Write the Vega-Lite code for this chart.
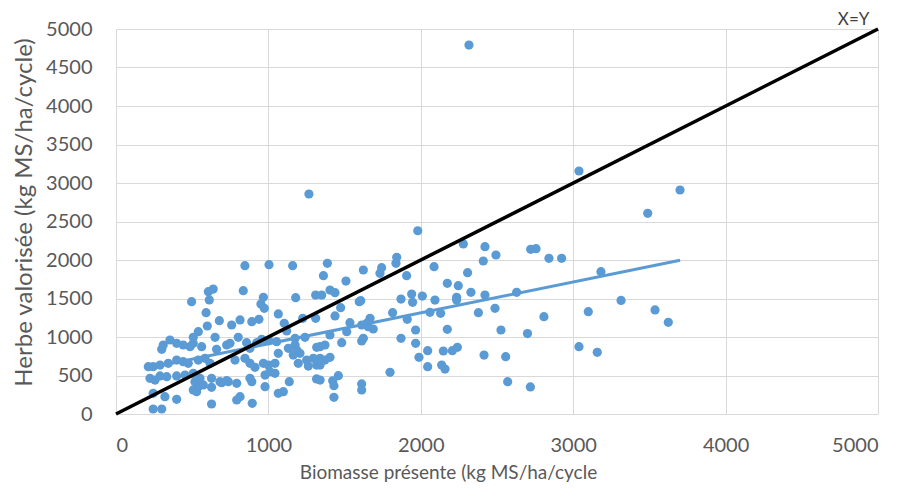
{
  "$schema": "https://vega.github.io/schema/vega-lite/v6.json",
  "autosize": {"type": "none"},
  "width": 762,
  "height": 385,
  "padding": {"left": 116, "top": 29, "right": 26, "bottom": 75},
  "config": {
    "view": {"stroke": null},
    "font": "Lato",
    "axis": {
      "grid": true, "gridColor": "#d9d9d9", "gridWidth": 1,
      "domain": false, "ticks": false, "labelOverlap": false, "format": "d",
      "labelColor": "#595959", "titleColor": "#595959",
      "labelFont": "Lato", "titleFont": "Lato",
      "labelFontSize": 20, "titleFontWeight": "normal"
    }
  },
  "datasets": {
    "pts": [
      {"x":2316,"y":4792},{"x":1266,"y":2857},{"x":1980,"y":2380},{"x":3038,"y":3156},{"x":3701,"y":2909},
      {"x":3489,"y":2606},{"x":2279,"y":2208},{"x":2421,"y":2173},{"x":2410,"y":1987},{"x":2493,"y":2065},
      {"x":2087,"y":1913},{"x":2307,"y":1835},{"x":2174,"y":1697},{"x":2246,"y":1667},{"x":2329,"y":1580},
      {"x":2421,"y":1545},{"x":2629,"y":1580},{"x":2235,"y":1515},{"x":2235,"y":1480},{"x":2010,"y":1532},
      {"x":2093,"y":1480},{"x":2060,"y":1320},{"x":2130,"y":1307},{"x":2378,"y":1316},{"x":2487,"y":1372},
      {"x":1966,"y":1091},{"x":2174,"y":1100},{"x":2526,"y":1091},{"x":2700,"y":1045},{"x":1966,"y":918},
      {"x":1988,"y":736},{"x":2045,"y":822},{"x":2045,"y":614},{"x":2148,"y":818},{"x":2207,"y":822},
      {"x":2240,"y":866},{"x":2137,"y":636},{"x":2159,"y":584},{"x":2415,"y":766},{"x":2557,"y":745},
      {"x":2570,"y":420},{"x":2721,"y":2139},{"x":2756,"y":2147},{"x":2841,"y":2022},{"x":2924,"y":2022},
      {"x":3182,"y":1848},{"x":3314,"y":1475},{"x":3099,"y":1329},{"x":3537,"y":1351},{"x":3624,"y":1191},
      {"x":2808,"y":1264},{"x":3038,"y":874},{"x":3158,"y":801},{"x":2719,"y":351},
      {"x":1387,"y":1957},{"x":1842,"y":2035},{"x":1837,"y":1957},{"x":1623,"y":1870},{"x":1743,"y":1900},
      {"x":1732,"y":1827},{"x":1361,"y":1796},{"x":1907,"y":1796},{"x":1509,"y":1727},{"x":1404,"y":1610},
      {"x":1437,"y":1575},{"x":1350,"y":1545},{"x":1596,"y":1458},{"x":1606,"y":1471},{"x":1870,"y":1493},
      {"x":1940,"y":1558},{"x":1946,"y":1450},{"x":1474,"y":1381},{"x":1437,"y":1273},{"x":1815,"y":1316},
      {"x":1535,"y":1186},{"x":1667,"y":1243},{"x":1645,"y":1178},{"x":1612,"y":1156},{"x":1688,"y":1104},
      {"x":1655,"y":1134},{"x":1911,"y":1230},{"x":1514,"y":1069},{"x":1404,"y":1026},{"x":1623,"y":983},
      {"x":1612,"y":948},{"x":1481,"y":926},{"x":1870,"y":983},{"x":1339,"y":874},{"x":1339,"y":723},
      {"x":1404,"y":736},{"x":1339,"y":636},{"x":1798,"y":541},{"x":1459,"y":497},{"x":1422,"y":432},
      {"x":1430,"y":368},{"x":1612,"y":390},{"x":1612,"y":312},{"x":1430,"y":217},{"x":1339,"y":441},
      {"x":846,"y":1926},{"x":1004,"y":1939},{"x":1159,"y":1926},{"x":835,"y":1601},{"x":967,"y":1515},
      {"x":951,"y":1429},{"x":973,"y":1372},{"x":1179,"y":1511},{"x":1310,"y":1545},{"x":1065,"y":1299},
      {"x":1104,"y":1178},{"x":1120,"y":1078},{"x":759,"y":1156},{"x":814,"y":1221},{"x":891,"y":1199},
      {"x":938,"y":1230},{"x":1225,"y":1243},{"x":1310,"y":1243},{"x":802,"y":996},{"x":748,"y":918},
      {"x":857,"y":926},{"x":956,"y":970},{"x":1004,"y":952},{"x":1054,"y":939},{"x":1175,"y":983},
      {"x":1240,"y":996},{"x":1131,"y":853},{"x":1186,"y":831},{"x":1163,"y":766},{"x":1207,"y":788},
      {"x":1317,"y":866},{"x":1371,"y":896},{"x":1251,"y":701},{"x":1295,"y":723},{"x":1317,"y":636},
      {"x":1371,"y":701},{"x":1196,"y":658},{"x":1262,"y":623},{"x":781,"y":701},{"x":846,"y":723},
      {"x":879,"y":658},{"x":912,"y":606},{"x":967,"y":658},{"x":1000,"y":636},{"x":1043,"y":658},
      {"x":1043,"y":528},{"x":978,"y":506},{"x":1010,"y":549},{"x":737,"y":420},{"x":792,"y":398},
      {"x":891,"y":420},{"x":879,"y":463},{"x":978,"y":355},{"x":1065,"y":268},{"x":1098,"y":290},
      {"x":814,"y":225},{"x":792,"y":182},{"x":894,"y":139},{"x":1316,"y":455},{"x":1065,"y":788},
      {"x":1175,"y":896},{"x":1137,"y":420},{"x":923,"y":926},{"x":879,"y":853},{"x":682,"y":420},
      {"x":606,"y":1588},{"x":638,"y":1623},{"x":612,"y":1481},{"x":496,"y":1458},{"x":591,"y":1316},
      {"x":678,"y":1212},{"x":599,"y":1143},{"x":540,"y":1069},{"x":507,"y":996},{"x":650,"y":996},
      {"x":660,"y":840},{"x":726,"y":896},{"x":354,"y":961},{"x":310,"y":896},{"x":300,"y":840},
      {"x":398,"y":918},{"x":441,"y":896},{"x":486,"y":874},{"x":562,"y":874},{"x":212,"y":614},
      {"x":244,"y":614},{"x":289,"y":636},{"x":343,"y":658},{"x":398,"y":701},{"x":441,"y":679},
      {"x":474,"y":658},{"x":540,"y":701},{"x":584,"y":723},{"x":617,"y":658},{"x":223,"y":463},
      {"x":289,"y":494},{"x":333,"y":485},{"x":398,"y":494},{"x":453,"y":506},{"x":507,"y":528},
      {"x":518,"y":420},{"x":551,"y":463},{"x":573,"y":377},{"x":627,"y":463},{"x":693,"y":407},
      {"x":726,"y":433},{"x":507,"y":312},{"x":529,"y":290},{"x":244,"y":268},{"x":321,"y":225},
      {"x":398,"y":191},{"x":627,"y":130},{"x":244,"y":65},{"x":300,"y":65},{"x":256,"y":441},
      {"x":507,"y":918},{"x":627,"y":346},{"x":540,"y":355}
    ],
    "diag": [{"x":0,"y":0},{"x":5000,"y":5000}],
    "trend": [{"x":212,"y":597},{"x":3701,"y":1996}],
    "lab": [{"x":4840,"y":5000,"t":"X=Y"}]
  },
  "encoding": {
    "x": {"field": "x", "type": "quantitative", "scale": {"domain": [0, 5000], "nice": false},
          "axis": {"tickCount": 5, "title": "Biomasse présente (kg MS/ha/cycle", "labelPadding": 21, "titlePadding": 8, "titleFontSize": 19, "titleX": 332}},
    "y": {"field": "y", "type": "quantitative", "scale": {"domain": [0, 5000], "nice": false},
          "axis": {"tickCount": 10, "title": "Herbe valorisée (kg MS/ha/cycle)", "labelPadding": 24, "titleFontSize": 24, "titleBaseline": "middle", "titleX": -92, "titleY": 183}}
  },
  "layer": [
    {
      "data": {"name": "pts"},
      "mark": {"type": "circle", "size": 85, "color": "#5b9bd5", "opacity": 1}
    },
    {
      "data": {"name": "trend"},
      "mark": {"type": "line", "color": "#5b9bd5", "strokeWidth": 3}
    },
    {
      "data": {"name": "diag"},
      "mark": {"type": "line", "color": "#000000", "strokeWidth": 3.5}
    },
    {
      "data": {"name": "lab"},
      "mark": {"type": "text", "fontSize": 17, "color": "#404040", "dy": -9, "baseline": "middle", "align": "center"},
      "encoding": {"text": {"field": "t"}}
    }
  ]
}
